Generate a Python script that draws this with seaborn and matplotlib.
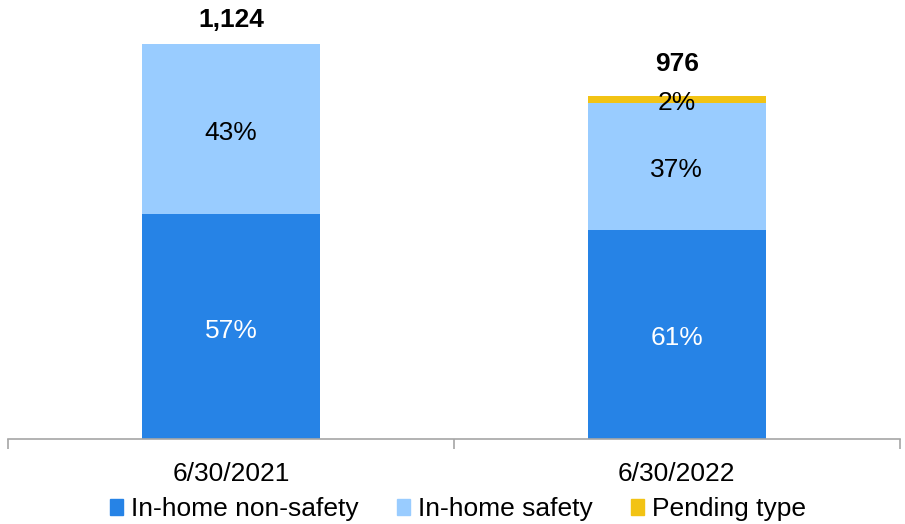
import numpy as np
import pandas as pd
import seaborn as sns
import matplotlib.pyplot as plt

# ================= data =================
dates = ['6/30/2021', '6/30/2022']
totals = [1124, 976]
series_names = ['In-home non-safety', 'In-home safety', 'Pending type']
non_safety_pct = [57, 61]
safety_pct = [43, 37]
pending_pct = [0, 2]

colors = ['#2683E6', '#99CCFF', '#F2C314']

sns.set_theme(style='white')
plt.rcParams['font.family'] = ['Liberation Sans', 'DejaVu Sans']
plt.rcParams['text.color'] = 'black'
plt.rcParams['xtick.labelcolor'] = 'black'

FS = 19

# segment heights from the share of each total
pcts = [non_safety_pct, safety_pct, pending_pct]
shares = np.array(pcts, dtype=float) / 100
heights = shares * np.array(totals)
cum = np.cumsum(heights, axis=0)

fig = plt.figure(figsize=(9.05, 5.24), dpi=100)
ax = fig.add_axes([0.009, 0.1622, 0.985, 0.8054])

# stacked bars: draw cumulative heights back to front
for i in [2, 1, 0]:
    df = pd.DataFrame({'date': dates, 'value': cum[i]})
    sns.barplot(data=df, x='date', y='value', color=colors[i], width=0.4,
                saturation=1, linewidth=0, ax=ax, order=dates)

# segment labels
txt_colors = ['white', 'black', 'black']
for i in range(3):
    for j in range(len(dates)):
        if pcts[i][j] == 0:
            continue
        base = cum[i][j] - heights[i][j]
        ax.annotate(f'{pcts[i][j]}%', (j, base + heights[i][j] / 2), xytext=(0, -3),
                    textcoords='offset points', ha='center', va='center',
                    fontsize=FS, color=txt_colors[i])

# total labels
offsets = [17, 23]
for j, t in enumerate(totals):
    ax.annotate(f'{t:,}', (j, t), xytext=(0, offsets[j]), textcoords='offset points',
                ha='center', va='center', fontsize=FS, fontweight='bold')

ax.set_xlim(-0.5, 1.5)
ax.set_ylim(0, 1200)
ax.set_yticks([])
ax.set_xlabel('')
ax.set_ylabel('')
for s in ['top', 'right', 'left']:
    ax.spines[s].set_visible(False)
ax.spines['bottom'].set_color('#A6A6A6')
ax.spines['bottom'].set_linewidth(1.2)

ax.set_xticks([-0.5, 0.5, 1.5])
ax.set_xticklabels([])
ax.tick_params(axis='x', which='major', length=7, width=1.2, color='#A6A6A6', bottom=True)
ax.set_xticks([0, 1], minor=True)
ax.set_xticklabels(dates, minor=True, fontsize=FS)
ax.tick_params(axis='x', which='minor', length=0, pad=16.5)

handles = [plt.Rectangle((0, 0), 1, 1, color=c) for c in colors]
fig.legend(handles, series_names, loc='lower center', bbox_to_anchor=(0.506, -0.04),
           ncol=3, frameon=False, fontsize=FS, handlelength=0.5, handleheight=0.55,
           handletextpad=0.3, columnspacing=1.45)

fig.savefig('out.png', dpi=100)
